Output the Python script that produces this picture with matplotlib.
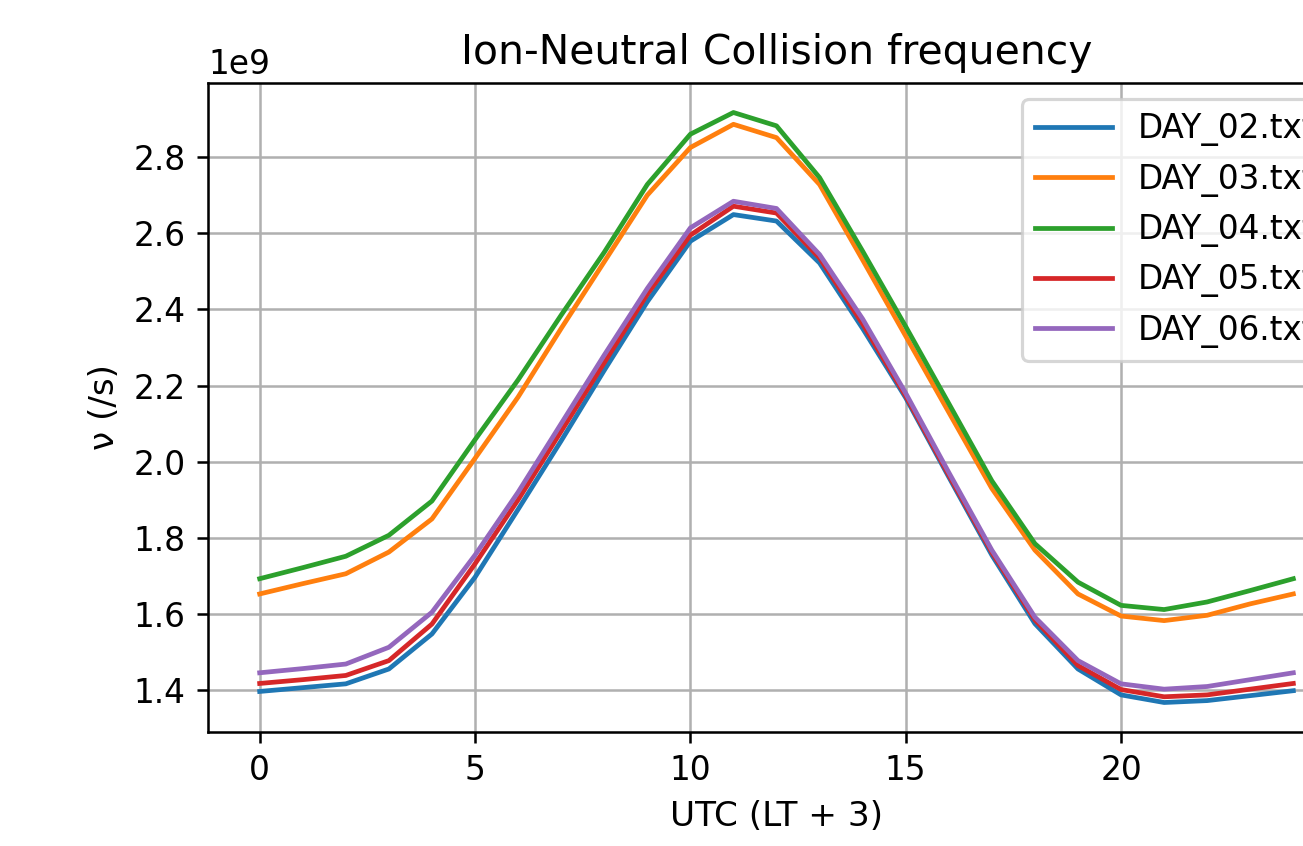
import matplotlib
matplotlib.use("Agg")
import matplotlib.pyplot as plt
import numpy as np

hours = np.arange(25)

day_02 = [1.397, 1.407, 1.417, 1.456, 1.548, 1.697, 1.875, 2.055, 2.24, 2.42,
          2.579, 2.649, 2.632, 2.522, 2.35, 2.168, 1.96, 1.755, 1.575, 1.456,
          1.388, 1.368, 1.373, 1.386, 1.399]
day_03 = [1.653, 1.68, 1.706, 1.763, 1.85, 2.009, 2.17, 2.35, 2.525, 2.70,
          2.825, 2.886, 2.851, 2.728, 2.53, 2.33, 2.13, 1.93, 1.768, 1.653,
          1.595, 1.583, 1.597, 1.627, 1.653]
day_04 = [1.693, 1.722, 1.752, 1.807, 1.897, 2.058, 2.215, 2.385, 2.55, 2.728,
          2.860, 2.917, 2.882, 2.746, 2.553, 2.355, 2.153, 1.95, 1.785, 1.684,
          1.623, 1.612, 1.632, 1.662, 1.693]
day_05 = [1.418, 1.428, 1.439, 1.478, 1.574, 1.732, 1.90, 2.08, 2.26, 2.44,
          2.595, 2.671, 2.653, 2.535, 2.362, 2.173, 1.965, 1.762, 1.585, 1.465,
          1.402, 1.383, 1.388, 1.403, 1.418]
day_06 = [1.446, 1.457, 1.469, 1.513, 1.605, 1.755, 1.92, 2.10, 2.28, 2.455,
          2.614, 2.684, 2.665, 2.544, 2.375, 2.18, 1.972, 1.768, 1.592, 1.478,
          1.417, 1.403, 1.41, 1.428, 1.446]

labels = ["DAY_02.txt", "DAY_03.txt", "DAY_04.txt", "DAY_05.txt", "DAY_06.txt"]
series = [day_02, day_03, day_04, day_05, day_06]

dpi = 228
fig = plt.figure(figsize=(1303 / dpi, 846 / dpi), dpi=dpi)
# axes runs past the right edge of the picture, as in the cropped original
ax = fig.add_axes([208 / 1303, 1 - 732 / 846, (1345 - 208) / 1303, (732 - 83) / 846])

for vals, lab in zip(series, labels):
    ax.plot(hours, np.array(vals) * 1e9, label=lab)

ax.set_title("Ion-Neutral Collision frequency", fontsize=12.9)
ax.set_xlabel("UTC (LT + 3)", fontsize=10.8)
ax.set_ylabel("ν (/s)", fontsize=10.8)
ax.tick_params(labelsize=10.4)
ax.yaxis.get_offset_text().set_fontsize(10.4)
ax.grid(True)
ax.legend(loc="upper right", fontsize=10.3, handlelength=2.35)

fig.savefig("out.png", dpi=dpi)
